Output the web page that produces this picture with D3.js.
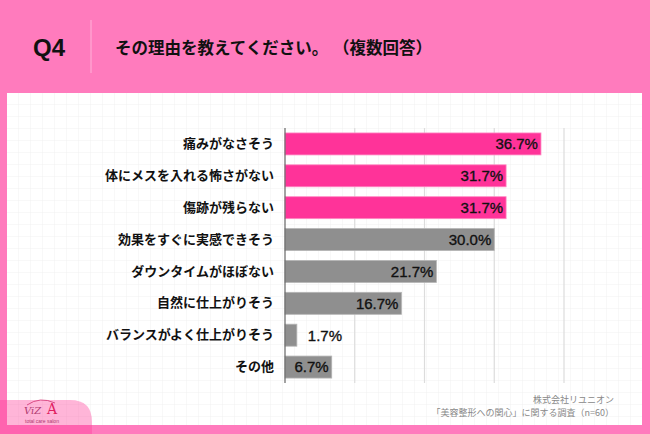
<!DOCTYPE html>
<html><head><meta charset="utf-8">
<script src="https://cdn.jsdelivr.net/npm/d3@7"></script>
<style>html,body{margin:0;padding:0;background:#ff7bbd;}svg{display:block;}</style>
</head><body>
<script>
const categories = ["痛みがなさそう","体にメスを入れる怖さがない","傷跡が残らない","効果をすぐに実感できそう","ダウンタイムがほぼない","自然に仕上がりそう","バランスがよく仕上がりそう","その他"];
const values = [36.7, 31.7, 31.7, 30.0, 21.7, 16.7, 1.7, 6.7];
const highlighted = [true, true, true, false, false, false, false, false];
const xTicks = [0, 10, 20, 30, 40];
const titleQ = "Q4";
const titleText = "その理由を教えてください。";
const titleNote = "（複数回答）";
const sourceLines = ["株式会社リユニオン", "「美容整形への関心」に関する調査（n=60）"];

const W = 650, H = 434;
const svg = d3.select("body").append("svg").attr("width", W).attr("height", H);
const jp = "'Noto Sans CJK JP', 'Noto Sans', sans-serif";
const num = "'Liberation Sans', Arial, sans-serif";

svg.append("rect").attr("width", W).attr("height", H).attr("fill", "#ff7bbd");

// header
svg.append("text").attr("x", 33).attr("y", 56).text(titleQ)
  .attr("font-family", num).attr("font-weight", "bold").attr("font-size", 24).attr("fill", "#111");
svg.append("line").attr("x1", 91).attr("x2", 91).attr("y1", 20).attr("y2", 73)
  .attr("stroke", "#ffb3d9").attr("stroke-width", 1);
const tt = svg.append("text").attr("y", 54)
  .attr("font-family", jp).attr("font-weight", "bold").attr("font-size", 16.5).attr("fill", "#111");
tt.append("tspan").attr("x", 115).text(titleText);
tt.append("tspan").attr("x", 333).text(titleNote);

// panel with faint grid
const px = 7, py = 93, pw = 635, ph = 332;
const defs = svg.append("defs");
const pat = defs.append("pattern").attr("id", "grid").attr("width", 12).attr("height", 12)
  .attr("patternUnits", "userSpaceOnUse").attr("x", px).attr("y", py);
pat.append("rect").attr("width", 12).attr("height", 12).attr("fill", "#fff");
pat.append("path").attr("d", "M12 0 V12 M0 12 H12").attr("stroke", "#f1f1f1").attr("stroke-width", 1).attr("fill", "none");
svg.append("rect").attr("x", px).attr("y", py).attr("width", pw).attr("height", ph).attr("fill", "url(#grid)");

// scales
const x = d3.scaleLinear().domain([0, 40]).range([285, 564]);
const y = d3.scaleBand().domain(categories).range([128, 383]).paddingInner(0.31).paddingOuter(0.155);

// gridlines
svg.append("g").selectAll("line").data(xTicks.slice(1)).join("line")
  .attr("x1", d => x(d)).attr("x2", d => x(d)).attr("y1", 128).attr("y2", 383)
  .attr("stroke", "#dcdcdc").attr("stroke-width", 1.2);

// bars
const data = categories.map((c, i) => ({c, v: values[i], h: highlighted[i]}));
svg.append("g").selectAll("rect").data(data).join("rect")
  .attr("x", x(0)).attr("y", d => y(d.c)).attr("width", d => x(d.v) - x(0)).attr("height", y.bandwidth())
  .attr("fill", d => d.h ? "#ff3399" : "#8f8f8f")
  .attr("stroke", d => d.h ? "#ff8cc4" : "#b5b5b5").attr("stroke-width", 0.8);

// axis line
svg.append("line").attr("x1", x(0)).attr("x2", x(0)).attr("y1", 128).attr("y2", 383)
  .attr("stroke", "#666").attr("stroke-width", 1.2);

// category labels via axis
const ax = svg.append("g").attr("transform", `translate(${x(0) - 11},0)`)
  .call(d3.axisLeft(y).tickSize(0).tickPadding(0));
ax.select(".domain").remove();
ax.selectAll("text").attr("font-family", jp).attr("font-weight", "bold").attr("font-size", 13).attr("fill", "#111");

// value labels
svg.append("g").selectAll("text").data(data).join("text")
  .attr("x", d => (x(d.v) - x(0) > 40) ? x(d.v) - 3 : x(d.v) + 11)
  .attr("text-anchor", d => (x(d.v) - x(0) > 40) ? "end" : "start")
  .attr("y", d => y(d.c) + y.bandwidth() / 2).attr("dy", "0.36em")
  .text(d => d.v.toFixed(1) + "%")
  .attr("font-family", num).attr("font-size", 15).attr("fill", "#111")
  .attr("stroke", "#111").attr("stroke-width", 0.35);

// source
svg.append("g").selectAll("text").data(sourceLines).join("text")
  .attr("x", 614).attr("y", (d, i) => 403 + i * 13).attr("text-anchor", "end")
  .text(d => d).attr("font-family", jp).attr("font-size", 9).attr("fill", "#888");

// logo area bottom-left (translucent overlay)
svg.append("path").attr("d", "M0 400 H70 Q92 400 92 422 V434 H0 Z")
  .attr("fill", "#ff3d98").attr("fill-opacity", 0.38);
svg.append("path").attr("d", "M27 405 Q40 396 55 403").attr("fill", "none").attr("stroke", "#d0306e").attr("stroke-width", 0.8);
svg.append("text").attr("x", 24).attr("y", 414).text("ViZ")
  .attr("font-family", "'DejaVu Serif', serif").attr("font-size", 10).attr("fill", "#b03a70").attr("font-style", "italic");
svg.append("text").attr("x", 47).attr("y", 414).text("A")
  .attr("font-family", "'DejaVu Serif', serif").attr("font-size", 14).attr("fill", "#e0205f");
svg.append("text").attr("x", 25).attr("y", 423).text("total care salon")
  .attr("font-family", num).attr("font-size", 5).attr("fill", "#b03a70");
</script>
</body></html>
